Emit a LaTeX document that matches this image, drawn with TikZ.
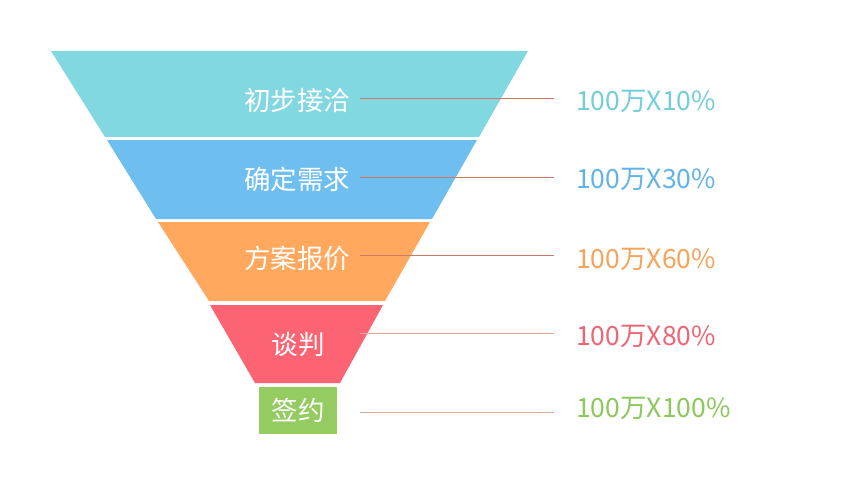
\documentclass[tikz,border=0pt]{standalone}
\usepackage{fontspec}
\newfontfamily\cjk{Noto Sans CJK SC}
\definecolor{cteal}{HTML}{82D8E0}
\definecolor{cblue}{HTML}{6EBEF0}
\definecolor{corange}{HTML}{FFA85E}
\definecolor{cred}{HTML}{FC6474}
\definecolor{cgreen}{HTML}{94CC62}
\definecolor{tteal}{HTML}{72CFDA}
\definecolor{tblue}{HTML}{62B4E8}
\definecolor{torange}{HTML}{F6A45A}
\definecolor{tred}{HTML}{EE6676}
\definecolor{tgreen}{HTML}{8CC85C}
\definecolor{cline}{HTML}{C87A66}
\definecolor{cline2}{HTML}{E0A898}
\tikzset{
  stagelabel/.style={text=white, font=\cjk\fontsize{26.5}{30}\selectfont, inner sep=0pt, anchor=center},
  valuelabel/.style={font=\cjk\fontsize{26.5}{30}\selectfont, inner sep=0pt, anchor=west},
  leader/.style={draw=cline, line width=0.8pt},
  leaderlight/.style={draw=cline2, line width=0.8pt}
}
\begin{document}
\begin{tikzpicture}[x=1pt,y=-1pt]
\useasboundingbox (0,0) rectangle (848,477);
\fill[white] (0,0) rectangle (848,477);
% funnel layers
\fill[cteal] (51,51) -- (528,51) -- (479,137) -- (105,137) -- cycle;
\fill[cblue] (107,140) -- (477,140) -- (432,219) -- (156,219) -- cycle;
\fill[corange] (158,222) -- (430,222) -- (385,301) -- (209,301) -- cycle;
\fill[cred] (210,305) -- (383,305) -- (340,383) -- (255,383) -- cycle;
\fill[cgreen] (259,387) rectangle (337,434);
% stage labels
\node[stagelabel] (s1) at (297,100) {初步接洽};
\node[stagelabel] (s2) at (297,179) {确定需求};
\node[stagelabel] (s3) at (297,258) {方案报价};
\node[stagelabel] (s4) at (298,345) {谈判};
\node[stagelabel] (s5) at (298,410) {签约};
% values
\node[valuelabel, text=tteal] (v1) at (576,101) {100万X10\%};
\node[valuelabel, text=tblue] (v2) at (576,179) {100万X30\%};
\node[valuelabel, text=torange] (v3) at (576,259) {100万X60\%};
\node[valuelabel, text=tred] (v4) at (576,336) {100万X80\%};
\node[valuelabel, text=tgreen] (v5) at (576,408) {100万X100\%};
% leader coordinates
\coordinate (a1) at (360,98);  \coordinate (b1) at (554,98);
\coordinate (a2) at (360,177); \coordinate (b2) at (554,177);
\coordinate (a3) at (360,255); \coordinate (b3) at (554,255);
\coordinate (a4) at (360,333); \coordinate (b4) at (554,333);
\coordinate (a5) at (360,412); \coordinate (b5) at (554,412);
\draw[leader] (a1) -- (b1);
\draw[leader] (a2) -- (b2);
\draw[leader] (a3) -- (b3);
\draw[leaderlight] (a4) -- (b4);
\draw[leaderlight] (a5) -- (b5);
\end{tikzpicture}
\end{document}
